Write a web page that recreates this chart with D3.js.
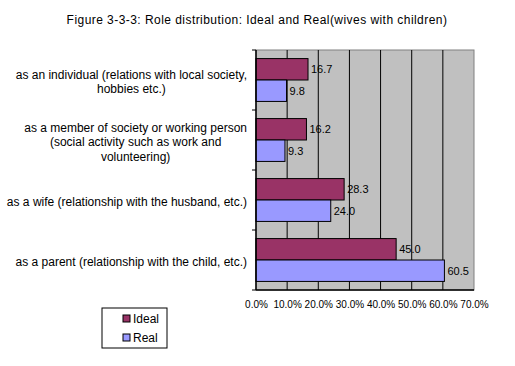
<!DOCTYPE html>
<html>
<head>
<meta charset="utf-8">
<script src="https://cdn.jsdelivr.net/npm/d3@7"></script>
<style>
body { margin: 0; background: #fff; }
text { font-family: "Liberation Sans", Arial, sans-serif; fill: #000; }
</style>
</head>
<body>
<div id="chart"></div>
<script>
var categories = [
    ["as an individual (relations with local society,", "hobbies etc.)"],
    ["as a member of society or working person", "(social activity such as work and", "volunteering)"],
    ["as a wife (relationship with the husband, etc.)"],
    ["as a parent (relationship with the child, etc.)"]
];
var seriesNames = ["Ideal", "Real"];
var ideal = [16.7, 16.2, 28.3, 45.0];
var real = [9.8, 9.3, 24.0, 60.5];
var tickValues = [0, 10, 20, 30, 40, 50, 60, 70];
var colors = ["#993366", "#9999FF"];

function init() {
    var w = 515, h = 366;
    var left = 256, right = 474, top = 50, bottom = 290;

    var svg = d3.select("#chart").append("svg")
        .attr("width", w).attr("height", h);

    // title
    svg.append("text")
        .attr("x", 257).attr("y", 24)
        .attr("text-anchor", "middle")
        .style("font-size", "12px")
        .style("letter-spacing", "0.45px")
        .text("Figure 3-3-3: Role distribution: Ideal and Real(wives with children)");

    var x = d3.scaleLinear().domain([0, 70]).range([left, right]);
    var y = d3.scaleBand().domain(d3.range(categories.length)).range([top, bottom]);
    var inner = d3.scaleBand().domain([0, 1]).range([0, y.bandwidth()]).paddingInner(0).paddingOuter(0.4);

    // plot background
    svg.append("rect")
        .attr("x", left).attr("y", top)
        .attr("width", right - left).attr("height", bottom - top)
        .attr("fill", "#C0C0C0").attr("stroke", "#808080");

    // grid lines
    svg.selectAll(".grid")
        .data(tickValues.slice(1, -1))
        .enter().append("line")
        .attr("x1", function(d){ return x(d); })
        .attr("x2", function(d){ return x(d); })
        .attr("y1", top).attr("y2", bottom)
        .attr("stroke", "#000").attr("stroke-width", 1);

    // bars
    var rows = [];
    categories.forEach(function(c, i){
        rows.push({cat: i, s: 0, v: ideal[i]});
        rows.push({cat: i, s: 1, v: real[i]});
    });
    svg.selectAll(".bar")
        .data(rows)
        .enter().append("rect")
        .attr("x", x(0))
        .attr("y", function(d){ return y(d.cat) + inner(d.s); })
        .attr("width", function(d){ return x(d.v) - x(0); })
        .attr("height", inner.bandwidth())
        .attr("fill", function(d){ return colors[d.s]; })
        .attr("stroke", "#000").attr("stroke-width", 1);

    // value labels
    svg.selectAll(".val")
        .data(rows)
        .enter().append("text")
        .attr("x", function(d){ return x(d.v) + 3; })
        .attr("y", function(d){ return y(d.cat) + inner(d.s) + inner.bandwidth() / 2 + 4; })
        .style("font-size", "11px")
        .text(function(d){ return d.v.toFixed(1); });

    // axes
    svg.append("line")
        .attr("x1", left).attr("x2", left).attr("y1", top).attr("y2", bottom)
        .attr("stroke", "#000").attr("stroke-width", 1.5);
    svg.append("line")
        .attr("x1", left).attr("x2", right).attr("y1", bottom).attr("y2", bottom)
        .attr("stroke", "#000").attr("stroke-width", 1.5);
    svg.selectAll(".ytick")
        .data(d3.range(categories.length + 1))
        .enter().append("line")
        .attr("x1", left - 4).attr("x2", left)
        .attr("y1", function(d){ return top + d * y.step(); })
        .attr("y2", function(d){ return top + d * y.step(); })
        .attr("stroke", "#000");

    var xAxis = d3.axisBottom(x).tickValues(tickValues).tickSize(0).tickPadding(0)
        .tickFormat(function(d){ return d.toFixed(1) + "%"; });
    var gx = svg.append("g").attr("transform", "translate(0," + (bottom + 11) + ")").call(xAxis);
    gx.select(".domain").remove();
    gx.selectAll("text").style("font-size", "10px").attr("font-family", null);

    // category labels
    categories.forEach(function(lines, i){
        var g = svg.append("g");
        var cy = y(i) + y.bandwidth() / 2 + 2;
        var lh = 14.5;
        var t = g.selectAll("text").data(lines).enter().append("text")
            .attr("text-anchor", "middle")
            .attr("y", function(d, j){ return cy + (j - (lines.length - 1) / 2) * lh + 4; })
            .style("font-size", "12px")
            .text(function(d){ return d; });
        var maxW = 0;
        t.each(function(){ maxW = Math.max(maxW, this.getComputedTextLength()); });
        t.attr("x", 247 - maxW / 2);
    });

    // legend
    svg.append("rect")
        .attr("x", 102).attr("y", 308).attr("width", 65).attr("height", 40)
        .attr("fill", "#fff").attr("stroke", "#000");
    seriesNames.forEach(function(name, i){
        svg.append("rect")
            .attr("x", 123).attr("y", 315 + i * 19)
            .attr("width", 7).attr("height", 7)
            .attr("fill", colors[i]).attr("stroke", "#000");
        svg.append("text")
            .attr("x", 133).attr("y", 323 + i * 19)
            .style("font-size", "12px")
            .text(name);
    });
}
window.onload = init;
</script>
</body>
</html>
